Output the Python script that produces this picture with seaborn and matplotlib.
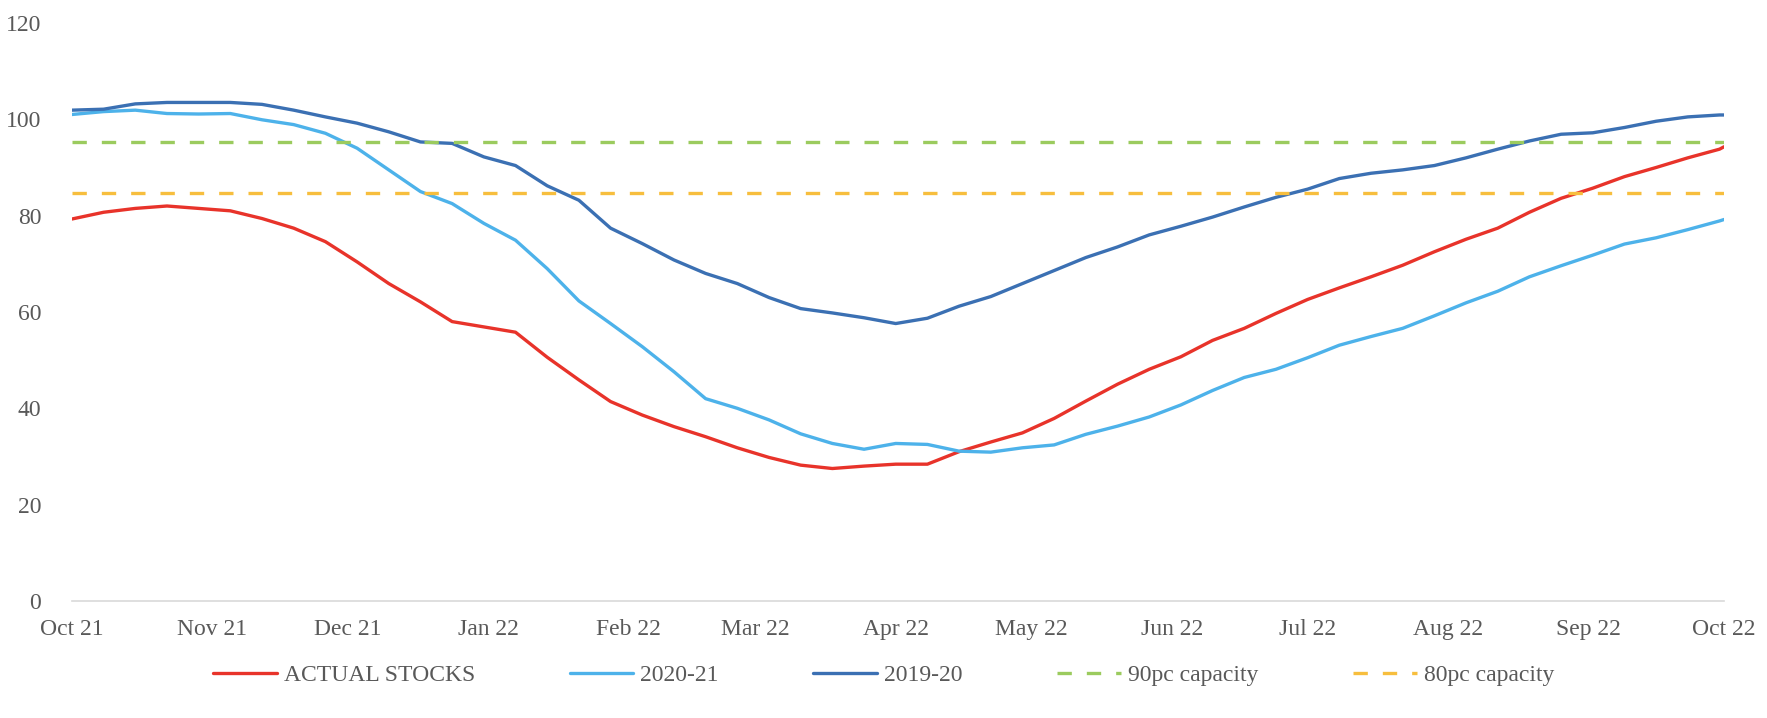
import pandas as pd
import seaborn as sns
import matplotlib.pyplot as plt
import matplotlib.dates as mdates

# Weekly readings of stock levels, Oct 21 -> Oct 22
dates = list(pd.date_range('2021-10-01', periods=53, freq='7D')) + [pd.Timestamp('2022-10-01')]

actual_stocks = [79.3, 80.7, 81.5, 82.0, 81.5, 81.0, 79.4, 77.4, 74.6, 70.4, 65.9, 62.1, 58.0, 56.9,
                 55.8, 50.6, 45.9, 41.4, 38.6, 36.2, 34.1, 31.8, 29.8, 28.2, 27.5, 28.0, 28.4,
                 28.4, 31.0, 33.0, 34.9, 37.9, 41.5, 45.0, 48.1, 50.7, 54.1, 56.6, 59.7, 62.6,
                 65.0, 67.3, 69.7, 72.5, 75.1, 77.4, 80.7, 83.6, 85.7, 88.1, 90.0, 92.0, 93.8, 94.3]
stocks_2020_21 = [101.0, 101.6, 101.9, 101.2, 101.1, 101.2, 99.9, 98.9, 97.1, 94.0, 89.5, 85.0, 82.5, 78.4,
                  74.9, 69.0, 62.3, 57.6, 52.8, 47.6, 42.0, 40.0, 37.6, 34.7, 32.7, 31.5, 32.7,
                  32.5, 31.1, 30.9, 31.8, 32.4, 34.6, 36.3, 38.2, 40.7, 43.7, 46.4, 48.1, 50.5,
                  53.1, 54.9, 56.6, 59.2, 61.9, 64.3, 67.3, 69.6, 71.8, 74.1, 75.4, 77.1, 78.9, 79.2]
stocks_2019_20 = [101.9, 102.1, 103.2, 103.5, 103.5, 103.5, 103.1, 101.9, 100.5, 99.2, 97.4, 95.3, 95.0, 92.2,
                  90.4, 86.2, 83.2, 77.4, 74.2, 70.8, 68.0, 65.9, 63.0, 60.7, 59.8, 58.8, 57.6,
                  58.7, 61.2, 63.2, 65.9, 68.6, 71.3, 73.5, 76.0, 77.8, 79.7, 81.8, 83.8, 85.5,
                  87.7, 88.8, 89.5, 90.4, 92.0, 93.8, 95.5, 96.9, 97.2, 98.3, 99.6, 100.5, 100.9, 100.9]
capacity_90pc = 95.3
capacity_80pc = 84.7

series_names = ['ACTUAL STOCKS', '2020-21', '2019-20', '90pc capacity', '80pc capacity']
colors = ['#E8332A', '#4DB2EA', '#3B70B3', '#9BCB5E', '#F7BE3D']

# Build one long table for seaborn
frames = []
for name, vals in zip(series_names, [actual_stocks, stocks_2020_21, stocks_2019_20,
                                     [capacity_90pc] * len(dates), [capacity_80pc] * len(dates)]):
    frames.append(pd.DataFrame({'date': dates, 'value': vals, 'series': name}))
df = pd.DataFrame(pd.concat(frames, ignore_index=True))

sns.set_style('white')
plt.rcParams['font.family'] = ['Liberation Serif', 'DejaVu Serif']
text_color = '#595959'

fig, ax = plt.subplots(figsize=(17.67, 7.18), dpi=100)
fig.subplots_adjust(left=0.0407, right=0.9757, bottom=0.163, top=0.968)

dash = (4.3, 4.5)
sns.lineplot(data=df, x='date', y='value', hue='series', style='series',
             hue_order=series_names, style_order=series_names,
             palette=dict(zip(series_names, colors)),
             dashes={'ACTUAL STOCKS': '', '2020-21': '', '2019-20': '',
                     '90pc capacity': dash, '80pc capacity': dash},
             linewidth=2.4, ax=ax)

ax.set_ylim(0, 120)
ax.set_yticks(range(0, 121, 20))
ax.set_xlim(pd.Timestamp('2021-10-01'), pd.Timestamp('2022-10-01'))
ax.xaxis.set_major_locator(mdates.MonthLocator())
ax.xaxis.set_major_formatter(mdates.DateFormatter('%b %y'))
ax.set_xlabel('')
ax.set_ylabel('')

for side in ['top', 'right', 'left']:
    ax.spines[side].set_visible(False)
ax.spines['bottom'].set_color('#D9D9D9')
ax.spines['bottom'].set_linewidth(1.2)
ax.tick_params(axis='x', colors='#D9D9D9', length=6, width=1.2, labelcolor=text_color,
               labelsize=17, pad=7)
ax.tick_params(axis='y', length=0, labelcolor=text_color, labelsize=17, pad=22)
ax.grid(False)

# Legend under the chart
handles, labels = ax.get_legend_handles_labels()
ax.get_legend().remove()
fig.legend(handles, labels, loc='center', bbox_to_anchor=(0.5, 0.059), ncol=5, frameon=False,
           fontsize=17, handlelength=2.7, columnspacing=4.0, handletextpad=0.3,
           labelcolor=text_color)

plt.savefig('out.png', dpi=100)
